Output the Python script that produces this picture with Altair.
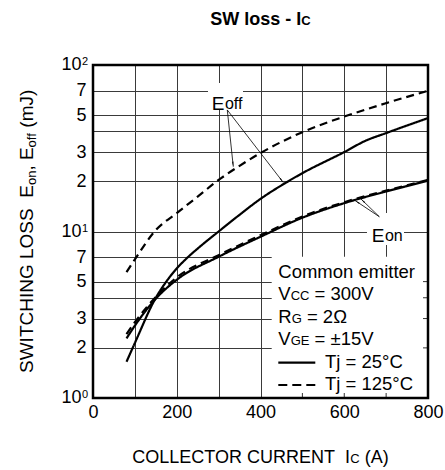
import math
import altair as alt
import pandas as pd

# ---------------- data ----------------
ic_eoff125 = [80, 100, 150, 200, 250, 300, 350, 400, 500, 600, 700, 800]
eoff125 = [5.7, 6.8, 10.2, 12.9, 16.2, 20.4, 24.8, 29.6, 39.5, 49, 59, 70]

ic_eoff25 = [80, 100, 150, 175, 200, 225, 250, 300, 350, 400, 460, 500, 600, 650, 700, 800]
eoff25 = [1.65, 2.14, 4.0, 5.0, 6.0, 6.95, 7.9, 10, 12.6, 15.7, 19.6, 22.4, 30, 35, 39, 48]

ic_eon = [80, 100, 150, 200, 300, 400, 500, 600, 700, 800]
eon25 = [2.28, 2.72, 3.95, 5.13, 7.05, 9.3, 12.1, 14.8, 17.4, 20.2]
eon125 = [2.42, 2.85, 4.05, 5.3, 7.2, 9.5, 12.3, 15.0, 17.6, 20.4]

x_grid = [0, 100, 200, 300, 400, 500, 600, 700, 800]
y_grid = [1, 2, 3, 4, 5, 7, 10, 20, 30, 40, 50, 70, 100]
decades = [1, 10, 100]
exponents = ["0", "1", "2"]

# annotation anchors (data coordinates)
eoff_label = (283.5, 58.0)
eoff_box = (274.6, 358.2, 54.4, 78.0)
eoff_arrows = [((320.7, 53.7), (335.0, 24.5)), ((320.7, 53.7), (454.4, 19.7))]
eon_label = (665.6, 9.43)
eon_box = (654.3, 742.7, 8.3, 12.9)
eon_arrows = [((683.8, 12.27), (625.7, 15.36)), ((683.8, 12.27), (640.0, 15.67))]

legend_lines = [
    [("Common emitter", 18.5, 0)],
    [("V", 18.5, 0), ("CC", 13, 0), (" = 300V", 18.5, 0)],
    [("R", 18.5, 0), ("G", 13, 0), (" = 2Ω", 18.5, 0)],
    [("V", 18.5, 0), ("GE", 13, 0), (" = ±15V", 18.5, 0)],
]
legend_tj = ["Tj = 25°C", "Tj = 125°C"]

# ---------------- layout ----------------
W, H = 335, 333
FONT = "Liberation Sans"
NB = "\u00a0"

AW = {' ': 278, NB: 278, '(': 333, ')': 333, ',': 278, '-': 333, '.': 278, '=': 584, '±': 584,
      '°': 400, 'Ω': 768, 'A': 667, 'C': 722, 'E': 667, 'G': 778, 'H': 722, 'I': 278,
      'J': 500, 'L': 556, 'M': 833, 'N': 722, 'O': 778, 'R': 722, 'S': 667, 'T': 611,
      'U': 722, 'V': 667, 'W': 944, 'c': 500, 'e': 556, 'f': 278, 'i': 222, 'j': 222,
      'l': 222, 'm': 833, 'n': 556, 'o': 556, 'r': 333, 's': 500, 't': 278}
for d in "0123456789":
    AW[d] = 556
AWB = dict(AW)
AWB.update({'l': 278, 'o': 611, 's': 556})


def tw(text, size, bold=False):
    tab = AWB if bold else AW
    return sum(tab.get(c, 556) for c in text) / 1000.0 * size


def to_px(x, y):
    return x / 800 * W, H - math.log10(y) / 2 * H


def to_data(px, py):
    return px / W * 800, 10 ** ((H - py) / H * 2)


xscale = alt.Scale(domain=[0, 800], nice=False, zero=False)
yscale = alt.Scale(type="log", domain=[1, 100], nice=False)
xaxis = alt.Axis(values=x_grid, title=None, grid=True, ticks=False, domain=False,
                 labelExpr="datum.value % 200 == 0 ? format(datum.value, 'd') : ''",
                 labelPadding=5, labelFontSize=18, labelOverlap=False, labelFlush=False)
yaxis = alt.Axis(values=y_grid, title=None, grid=True, ticks=False, domain=False,
                 labelExpr="(datum.value == 1 || datum.value == 4 || datum.value == 10 || datum.value == 40 || datum.value == 100) ? '' : format(datum.value / pow(10, floor(log(datum.value) / LN10 + 0.000001)), 'd')",
                 labelPadding=7, labelFontSize=18, labelOverlap=False, labelFlush=False)


def X(f):
    return alt.X(f, type="quantitative", scale=xscale, axis=xaxis, title=None)


def Y(f):
    return alt.Y(f, type="quantitative", scale=yscale, axis=yaxis, title=None)


def txt(text, px, py, size, angle=0, weight="normal", align="left", baseline="alphabetic"):
    return alt.Chart(pd.DataFrame({"t": [text.replace(" ", NB)]})).mark_text(
        font=FONT, fontSize=size, fontWeight=weight, angle=angle, align=align,
        baseline=baseline, color="black").encode(
        text="t:N", x=alt.value(px), y=alt.value(py))


def run(pieces, px, py, angle=0, weight="normal"):
    out = []
    pos = 0.0
    bold = weight == "bold"
    for text, size, shift in pieces:
        lead = len(text) - len(text.lstrip(" "))
        pos += tw(" " * lead, size, bold)
        core = text.strip(" ")
        if angle == 0:
            out.append(txt(core, px + pos, py + shift, size, weight=weight))
        else:
            out.append(txt(core, px + shift, py - pos, size, angle=270, weight=weight))
        pos += tw(text.lstrip(" "), size, bold)
    return out


def run_width(pieces, bold=False):
    return sum(tw(t, s, bold) for t, s, _ in pieces)


layers = []

# ---------------- curves ----------------
rows = []
for xs, ys, name, tj in [(ic_eoff125, eoff125, "Eoff125", "125"),
                         (ic_eoff25, eoff25, "Eoff25", "25"),
                         (ic_eon, eon125, "Eon125", "125"),
                         (ic_eon, eon25, "Eon25", "25")]:
    for a, b in zip(xs, ys):
        rows.append({"ic": a, "e": b, "curve": name, "tj": tj})
curves = pd.DataFrame(rows)
layers.append(
    alt.Chart(curves).mark_line(color="black", strokeWidth=2.2, interpolate="monotone").encode(
        x=X("ic"), y=Y("e"), detail="curve:N",
        strokeDash=alt.StrokeDash("tj:N", scale=alt.Scale(domain=["25", "125"], range=[[1, 0], [8, 5]]),
                                  legend=None))
)

# ---------------- legend box ----------------
one = pd.DataFrame({"a": [0]})
layers.append(alt.Chart(one).mark_rect(fill="white").encode(
    x=alt.value(178.7), x2=alt.value(W), y=alt.value(191.7), y2=alt.value(H)))

# label boxes
boxes = pd.DataFrame({"x1": [eoff_box[0], eon_box[0]], "x2": [eoff_box[1], eon_box[1]],
                      "y1": [eoff_box[2], eon_box[2]], "y2": [eoff_box[3], eon_box[3]]})
layers.append(alt.Chart(boxes).mark_rect(fill="white").encode(
    x=X("x1"), x2="x2:Q", y=Y("y1"), y2="y2:Q"))

# arrows
arows = []
heads = []
for (s, e) in eoff_arrows + eon_arrows:
    arows.append({"x1": s[0], "y1": s[1], "x2": e[0], "y2": e[1]})
    sx, sy = to_px(*s)
    ex, ey = to_px(*e)
    dx, dy = ex - sx, ey - sy
    L = math.hypot(dx, dy)
    ux, uy = dx / L, dy / L
    cx, cy = ex - ux * 3.5, ey - uy * 3.5
    hx, hy = to_data(cx, cy)
    ang = (math.degrees(math.atan2(dx, -dy)) + 360) % 360
    heads.append({"x": hx, "y": hy, "ang": ang})
layers.append(alt.Chart(pd.DataFrame(arows)).mark_rule(color="black", strokeWidth=0.8).encode(
    x=X("x1"), x2="x2:Q", y=Y("y1"), y2="y2:Q"))
layers.append(alt.Chart(pd.DataFrame(heads)).mark_point(
    shape="wedge", filled=True, color="black", size=30, opacity=1).encode(
    x=X("x"), y=Y("y"), angle=alt.Angle("ang:Q", scale=None)))

# label texts (data anchored)
lab = pd.DataFrame({"x": [eoff_label[0], eon_label[0]], "y": [eoff_label[1], eon_label[1]],
                    "E": ["E", "E"], "sub": ["off", "on"]})
layers.append(alt.Chart(lab).mark_text(font=FONT, fontSize=19, align="left", color="black").encode(
    x=X("x"), y=Y("y"), text="E:N"))
layers.append(alt.Chart(lab).mark_text(font=FONT, fontSize=16, align="left", dx=tw("E", 19) + 0.5,
                                       color="black").encode(x=X("x"), y=Y("y"), text="sub:N"))

# 10^n labels on y axis
dec = pd.DataFrame({"v": decades, "e": exponents})
layers.append(alt.Chart(dec).mark_text(font=FONT, fontSize=18, align="right", baseline="middle",
                                       color="black").encode(
    y=Y("v"), x=alt.value(-11.5), text=alt.value("10")))
layers.append(alt.Chart(dec).mark_text(font=FONT, fontSize=11, align="left", baseline="alphabetic",
                                       color="black", dy=0).encode(
    y=Y("v"), x=alt.value(-11), text="e:N"))

# ---------------- legend contents ----------------
LX = 185.3
base_y = [212.7, 235.0, 257.5, 280.0]
for pieces, by in zip(legend_lines, base_y):
    layers += run(pieces, LX, by)
samp = pd.DataFrame({"a": [0]})
layers.append(alt.Chart(samp).mark_rule(color="black", strokeWidth=2.2).encode(
    x=alt.value(LX), x2=alt.value(LX + 37), y=alt.value(297.7)))
layers.append(alt.Chart(samp).mark_rule(color="black", strokeWidth=2.2, strokeDash=[9, 5]).encode(
    x=alt.value(LX), x2=alt.value(LX + 37), y=alt.value(320.0)))
layers.append(txt(legend_tj[0], 232, 302.5, 18.5))
layers.append(txt(legend_tj[1], 232, 325.0, 18.5))

# stubs of the grid on the frame inside the legend box
stub_y = pd.DataFrame({"v": [2, 3, 4, 5]})
layers.append(alt.Chart(stub_y).mark_rule(color="#333", strokeWidth=1).encode(
    y=Y("v"), x=alt.value(W - 5), x2=alt.value(W)))
stub_x = pd.DataFrame({"v": [500, 600, 700]})
layers.append(alt.Chart(stub_x).mark_rule(color="#333", strokeWidth=1).encode(
    x=X("v"), y=alt.value(H - 5), y2=alt.value(H)))

# frame
layers.append(alt.Chart(one).mark_rect(filled=False, stroke="black", strokeWidth=2.5).encode(
    x=alt.value(0), x2=alt.value(W), y=alt.value(0), y2=alt.value(H)))

# ---------------- titles ----------------
title_p = [("SW loss - I", 18, 0), ("C", 13, 0)]
layers += run(title_p, W / 2 - run_width(title_p, True) / 2, -40, weight="bold")
xt_p = [("COLLECTOR CURRENT  I", 18, 0), ("C", 13, 0), (" (A)", 18, 0)]
layers += run(xt_p, W / 2 - run_width(xt_p) / 2, 398.3)
yt_p = [("SWITCHING LOSS  E", 19, 0), ("on", 13, 3), (", E", 19, 0), ("off", 13, 3), (" (mJ)", 19, 0)]
layers += run(yt_p, -60.3, 308, angle=270)

chart = alt.layer(*layers).properties(
    width=W, height=H,
    padding={"left": 93, "top": 65, "right": 17, "bottom": 72},
    autosize=alt.AutoSizeParams(type="none"),
).configure(background="white").configure_view(strokeWidth=0).configure_axis(
    gridColor="#3a3a3a", gridWidth=1, gridOpacity=1, labelFont=FONT, labelColor="black")

chart.save("out.html", embed_options={"renderer": "svg", "actions": False})
